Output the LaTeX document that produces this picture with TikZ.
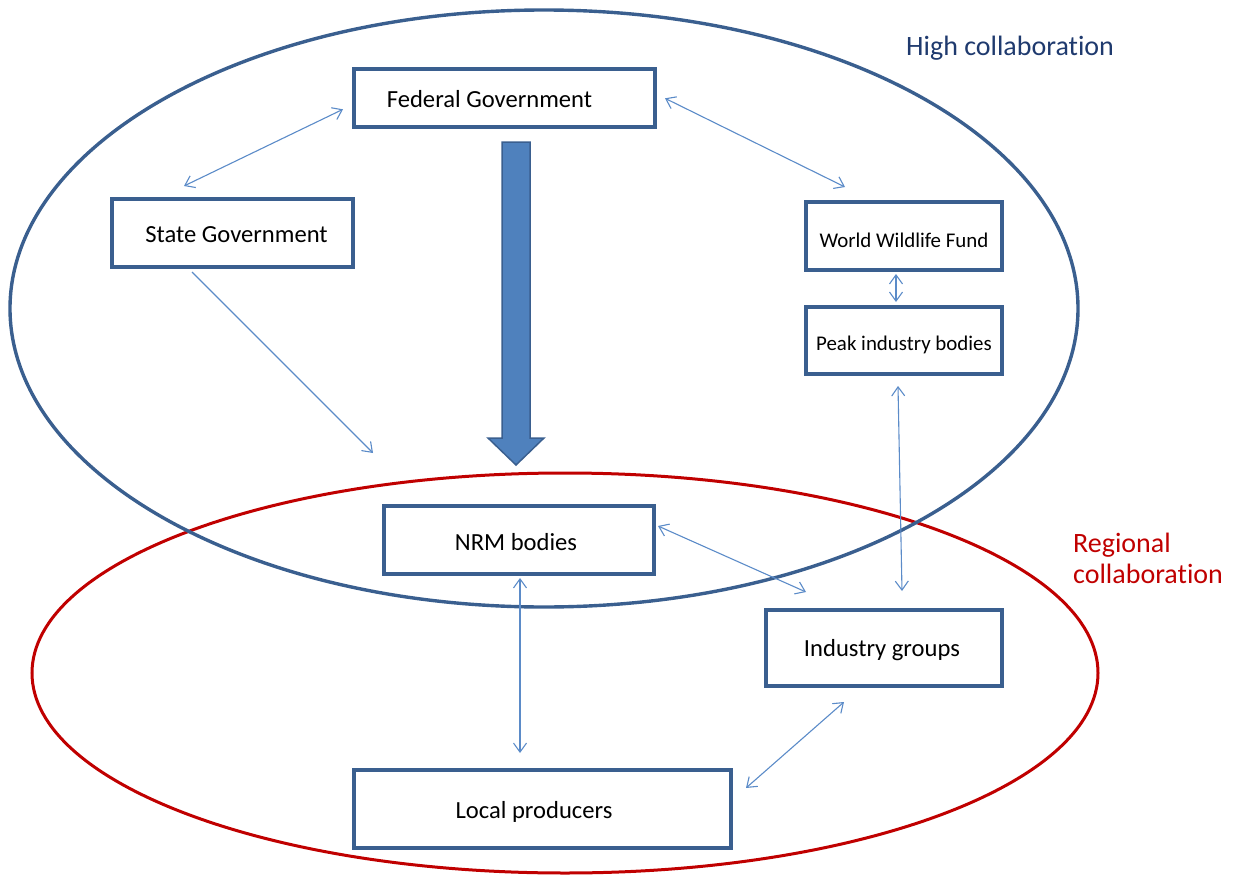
\documentclass[tikz,border=0pt]{standalone}
\usepackage{fontspec}
\setmainfont{Carlito}[Ligatures=NoCommon]
\usetikzlibrary{arrows.meta,calc}
\definecolor{boxblue}{HTML}{3A5F8F}
\definecolor{linkblue}{HTML}{5B8BC8}
\definecolor{fillblue}{HTML}{4F81BD}
\definecolor{ringred}{HTML}{C00000}
\definecolor{navytext}{HTML}{1F3A6E}
\tikzset{
  box/.style={draw=boxblue, line width=4bp, fill=white, inner sep=0pt,
    font=\fontsize{24.6bp}{29bp}\selectfont, text height=18bp, text depth=0bp},
  smallbox/.style={box, font=\fontsize{20.9bp}{25bp}\selectfont},
  link/.style={draw=linkblue, line width=1.1bp, {Straight Barb[length=9bp,width=13bp]}-{Straight Barb[length=9bp,width=13bp]}},
  onelink/.style={draw=linkblue, line width=1.1bp, -{Straight Barb[length=9bp,width=13bp]}},
  bigtext/.style={inner sep=0pt, font=\fontsize{28bp}{31bp}\selectfont},
}
\begin{document}
\begin{tikzpicture}[x=1bp,y=-1bp]
\useasboundingbox (0,0) rectangle (1234,877);
% ellipses
\draw[ringred, line width=3bp] (565,673) ellipse [x radius=533, y radius=200];
\draw[boxblue, line width=3.4bp] (544,308.5) ellipse [x radius=534, y radius=298.5];
% labels
\node[bigtext, anchor=base west, text=navytext] (hc) at (906,55) {High collaboration};
\node[bigtext, anchor=base west, text=ringred, align=left] (rc) at (1073,583) {Regional\\collaboration};
% boxes
\node[box, minimum width=301bp, minimum height=58bp] (fed) at (504.5,98.3) {Federal Government\kern30bp};
\node[box, minimum width=241bp, minimum height=68bp] (state) at (232.5,233) {\kern8bp State Government};
\node[smallbox, minimum width=196bp, minimum height=68bp, text height=22bp] (wwf) at (904,236) {World Wildlife Fund};
\node[smallbox, minimum width=196bp, minimum height=67bp, text height=19bp] (peak) at (904,340.5) {Peak industry bodies};
\node[box, minimum width=270bp, minimum height=68bp, text height=20bp] (nrm) at (519,540) {NRM bodies\kern6bp};
\node[box, minimum width=236bp, minimum height=76bp, text height=17bp] (ind) at (884,648) {Industry groups\kern4bp};
\node[box, minimum width=377bp, minimum height=78bp] (loc) at (542.5,809) {Local producers\kern17bp};
% big arrow
\draw[fill=fillblue, draw=boxblue, line width=1.5bp]
  (502,142) -- (530,142) -- (530,438) -- (544,438) -- (516,465) -- (488,438) -- (502,438) -- cycle;
% thin connectors
\coordinate (stateend) at (373,453);
\draw[link] ($(fed.west)+(-9,11)$) -- ($(state.north)+(-48.5,-11)$);
\draw[link] ($(fed.east)+(8,0)$) -- ($(wwf.north)+(-59,-13)$);
\draw[onelink] ($(state.south)+(-40.5,3)$) -- (stateend);
\draw[link] ($(wwf.south)+(-8,2)$) -- ($(peak.north)+(-8,-3)$);
\draw[link] ($(peak.south)+(-6,10)$) -- ($(ind.north)+(18,-17)$);
\draw[link] ($(nrm.east)+(2,-14)$) -- ($(ind.north west)+(42,-16)$);
\draw[link] ($(nrm.south)+(1,2)$) -- ($(loc.north)+(-22.5,-15)$);
\draw[link] ($(ind.south)+(-40,14)$) -- ($(loc.east)+(13,-21)$);
\end{tikzpicture}
\end{document}
